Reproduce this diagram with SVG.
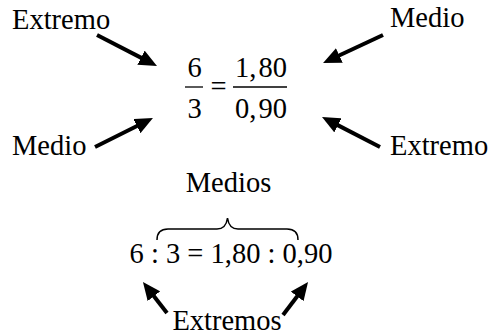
<svg xmlns="http://www.w3.org/2000/svg" width="489" height="336" viewBox="0 0 489 336" font-family="'Liberation Serif', 'Times New Roman', Times, serif" font-size="28.5">
<style>
text{font-family:'Liberation Serif','Times New Roman',Times,serif;font-size:28.5px;fill:#000}
.c{text-anchor:middle}
.arr{stroke:#000;stroke-width:4;fill:none;marker-end:url(#ah)}
.bar{stroke:#000;stroke-width:1.3}
</style>
<defs>
<marker id="ah" viewBox="0 0 18 16" refX="8" refY="8" markerWidth="18" markerHeight="16" markerUnits="userSpaceOnUse" orient="auto">
<path d="M0,0 L18,8 L0,16 z" fill="#000"/>
</marker>
</defs>
<rect width="489" height="336" fill="#fff"/>
<g id="label-extremo-tl"><text x="12" y="29">Extremo</text></g>
<g id="label-medio-tr"><text x="390" y="27">Medio</text></g>
<g id="label-medio-bl"><text x="12" y="155">Medio</text></g>
<g id="label-extremo-br"><text x="390" y="155">Extremo</text></g>
<g id="fraction">
<text class="c" x="194.5" y="77">6</text>
<line class="bar" x1="185" y1="87" x2="203" y2="87"/>
<text class="c" x="194.5" y="118">3</text>
<text class="c" x="218.5" y="96">=</text>
<text class="c" x="261" y="77">1,<tspan dx="2">80</tspan></text>
<line class="bar" x1="233" y1="87" x2="287" y2="87"/>
<text class="c" x="261" y="118">0,<tspan dx="2">90</tspan></text>
</g>
<g id="label-medios"><text class="c" x="228.5" y="192">Medios</text></g>
<g id="brace"><path d="M157,240 Q157,229 168,229 L217,229 Q226,229 227.5,218 Q229,229 238,229 L287,229 Q298,229 298,240" fill="none" stroke="#000" stroke-width="1.5"/></g>
<g id="equation"><text class="c" x="231" y="263">6 : 3 = 1,80 : 0,90</text></g>
<g id="label-extremos"><text class="c" x="227" y="330">Extremos</text></g>
<g id="connectors">
<line class="arr" x1="97" y1="35" x2="148.1" y2="61.4"/>
<line class="arr" x1="95" y1="147" x2="144" y2="122.5"/>
<line class="arr" x1="383" y1="35" x2="332.1" y2="58.8"/>
<line class="arr" x1="380" y1="147" x2="330.9" y2="121.6"/>
<line class="arr" x1="167" y1="313" x2="149.1" y2="289.9"/>
<line class="arr" x1="283" y1="315" x2="302" y2="290"/>
</g>
</svg>
